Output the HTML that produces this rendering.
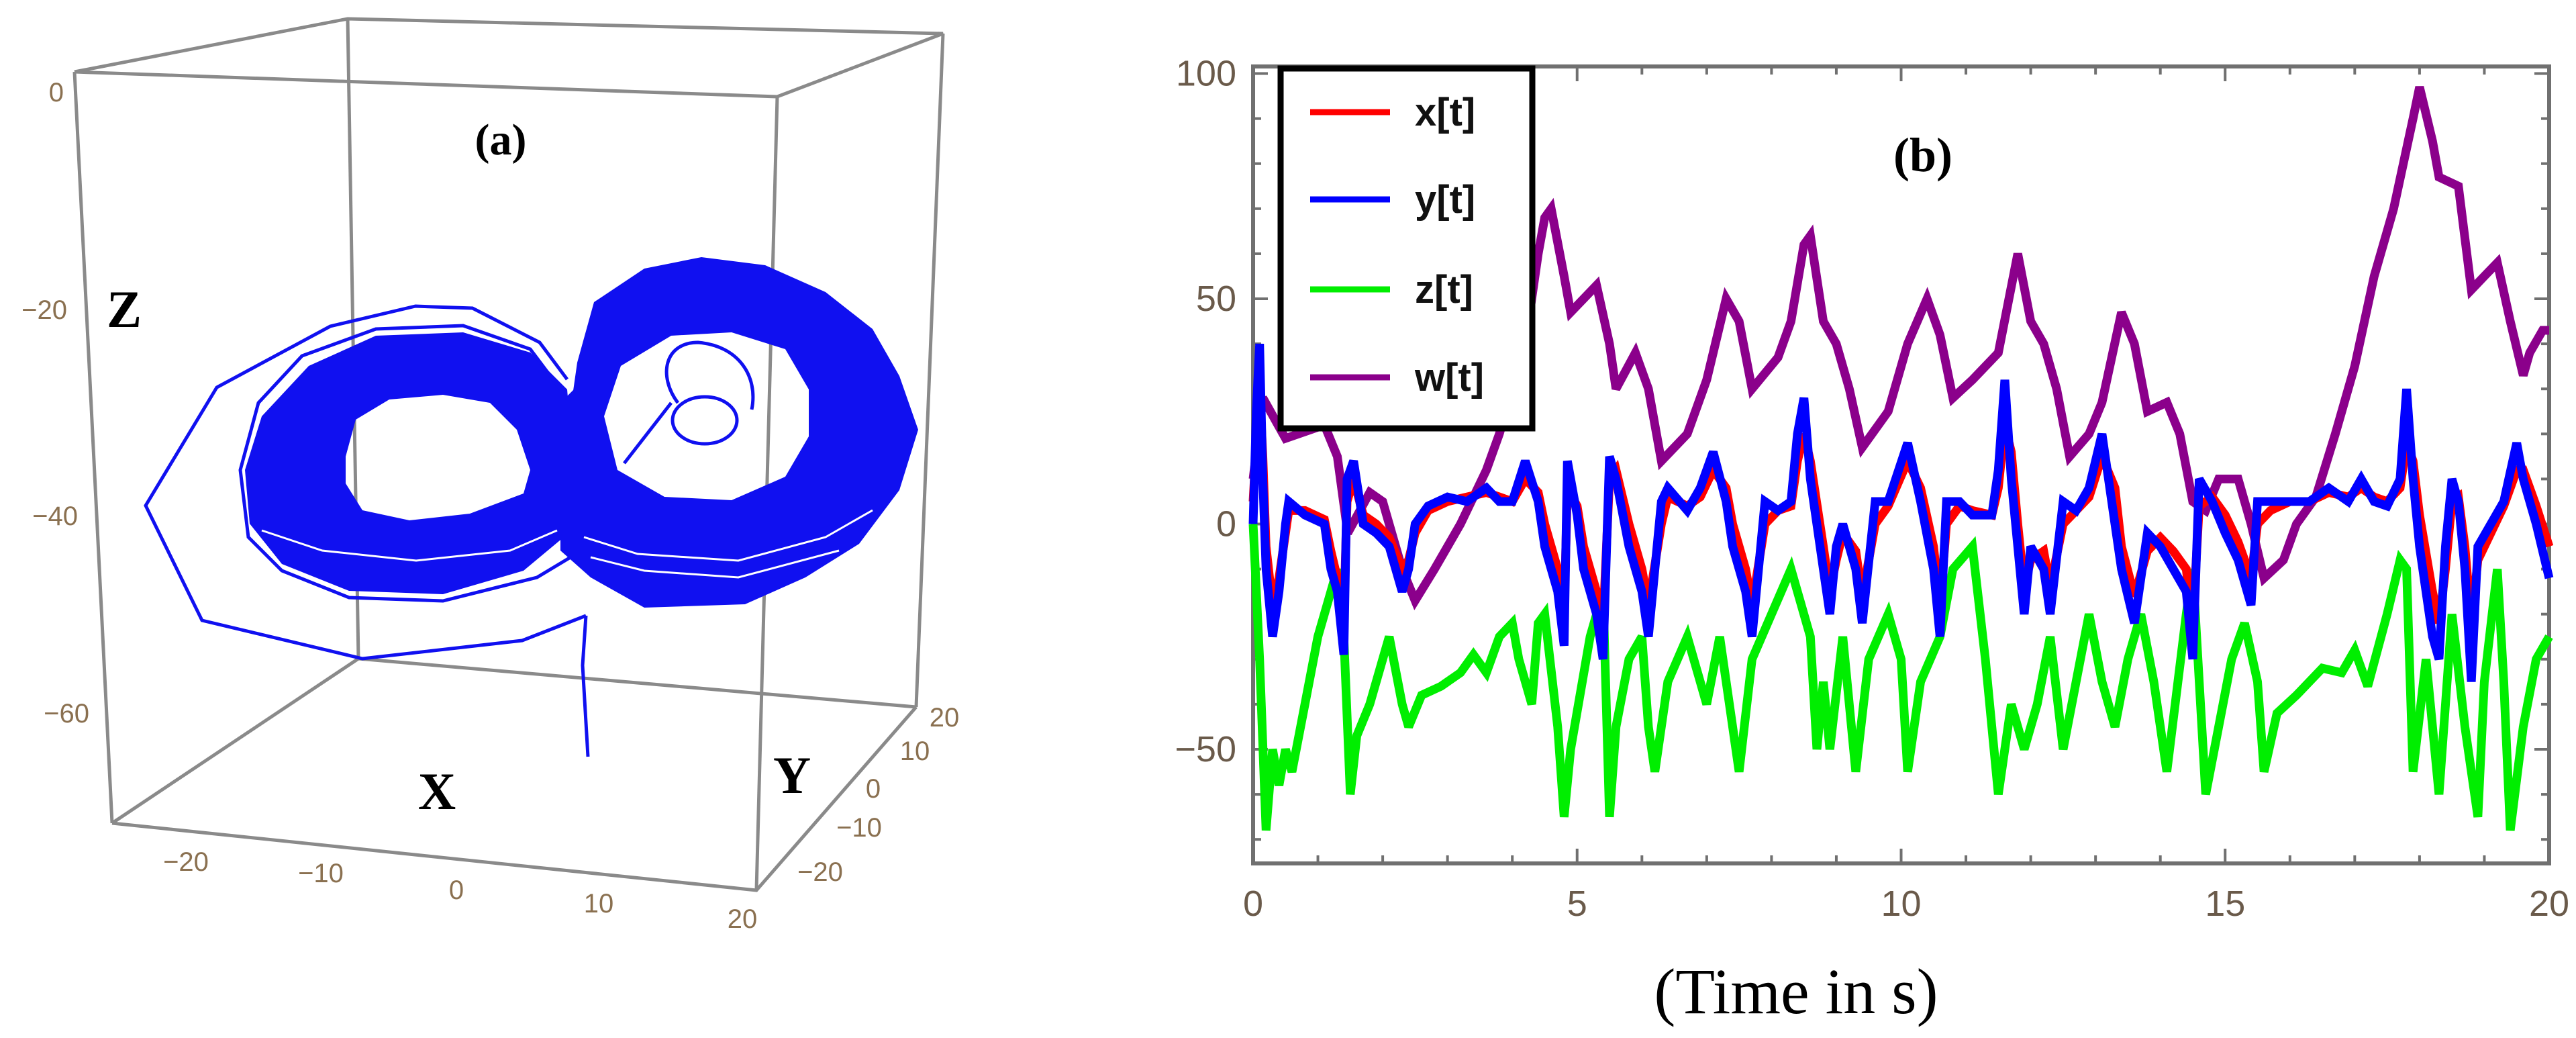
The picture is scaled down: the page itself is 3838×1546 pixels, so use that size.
<!DOCTYPE html>
<html><head><meta charset="utf-8"><style>
html,body{margin:0;padding:0;background:#fff;}
svg{display:block;}
</style></head><body>
<svg id="root" width="3838" height="1546" viewBox="0 0 3838 1546" xmlns="http://www.w3.org/2000/svg">
<rect width="3838" height="1546" fill="#fff"/>
<!-- Panel (a): 3D attractor -->
<g>
  <g stroke="#8a8a8a" stroke-width="5" fill="none">
    <polyline points="111,107 518,28 1405,50 1158,144 111,107"/>
    <line x1="111" y1="107" x2="167" y2="1226"/>
    <line x1="518" y1="28" x2="534" y2="981"/>
    <line x1="1405" y1="50" x2="1365" y2="1053"/>
    <line x1="1158" y1="144" x2="1127" y2="1326"/>
    <polyline points="167,1226 1127,1326 1365,1053"/>
    <line x1="167" y1="1226" x2="534" y2="981"/>
    <line x1="534" y1="981" x2="1365" y2="1053"/>
  </g>
  <g>
    <path fill="#1010f0" fill-rule="evenodd"
      d="M365,700 L390,620 L460,545 L560,500 L690,495 L790,525 L845,580 L855,700 L840,800 L780,850 L660,885 L520,880 L420,840 L372,780 Z M515,680 L530,625 L580,595 L660,588 L730,600 L770,640 L790,700 L780,735 L700,765 L610,775 L540,760 L515,720 Z"/>
    <path fill="#1010f0" fill-rule="evenodd"
      d="M860,540 L885,450 L960,400 L1045,383 L1140,395 L1230,435 L1300,490 L1340,560 L1368,640 L1340,730 L1280,810 L1200,860 L1110,900 L960,905 L880,860 L845,800 L840,680 Z M900,620 L925,545 L1000,500 L1090,495 L1170,520 L1205,580 L1205,650 L1170,710 L1090,745 L990,740 L920,700 Z"/>
    <polygon fill="#1010f0" points="835,600 875,560 880,860 835,820"/>
    <g fill="none" stroke="#ffffff" stroke-width="3">
      <polyline points="870,800 950,825 1100,835 1230,800 1300,760"/>
      <polyline points="880,830 960,850 1100,860 1250,820"/>
      <polyline points="390,790 480,820 620,835 760,820 830,790"/>
    </g>
    <g fill="none" stroke="#1010f0" stroke-width="5">
      <ellipse cx="1050" cy="626" rx="48" ry="35"/>
      <path d="M1010,600 C980,560 990,510 1040,510 C1100,515 1130,560 1120,610"/>
      <line x1="930" y1="690" x2="1000" y2="600"/>
      <polyline points="845,565 804,510 704,459 619,456 492,486 323,577 217,753 301,924 540,981 778,954 873,917"/>
      <polyline points="873,917 868,991 876,1127"/>
      <polyline points="835,580 790,520 690,485 560,490 450,530 385,600 358,700 370,800 420,850 520,890 660,895 800,860 850,830"/>
    </g>
  </g>
  <g font-family="Liberation Sans, sans-serif" font-size="40" fill="#8a7050" text-anchor="end">
    <text x="95" y="151">0</text>
    <text x="100" y="475">−20</text>
    <text x="116" y="782">−40</text>
    <text x="133" y="1076">−60</text>
  </g>
  <g font-family="Liberation Sans, sans-serif" font-size="40" fill="#8a7050" text-anchor="middle">
    <text x="277" y="1297">−20</text>
    <text x="478" y="1314">−10</text>
    <text x="680" y="1339">0</text>
    <text x="892" y="1359">10</text>
    <text x="1106" y="1382">20</text>
  </g>
  <g font-family="Liberation Sans, sans-serif" font-size="40" fill="#8a7050" text-anchor="middle">
    <text x="1407" y="1082">20</text>
    <text x="1363" y="1132">10</text>
    <text x="1301" y="1188">0</text>
    <text x="1280" y="1246">−10</text>
    <text x="1222" y="1312">−20</text>
  </g>
  <g font-family="Liberation Serif, serif" font-weight="bold" fill="#000">
    <text x="185" y="487" font-size="78" text-anchor="middle">Z</text>
    <text x="651" y="1205" font-size="78" text-anchor="middle">X</text>
    <text x="1180" y="1181" font-size="78" text-anchor="middle">Y</text>
    <text x="746" y="230" font-size="66" text-anchor="middle">(a)</text>
  </g>
</g>
<!-- Panel (b) -->
<g id="panelB"></g>
</svg>
<script>
const T_W = [0,0.15,0.5,1.1,1.3,1.46,1.8,2.0,2.3,2.5,2.8,3.2,3.6,3.8,4.0,4.2,4.4,4.5,4.6,4.8,4.9,5.1,5.3,5.5,5.6,5.9,6.1,6.3,6.7,7.0,7.3,7.5,7.7,8.1,8.3,8.5,8.6,8.8,9.0,9.2,9.4,9.8,10.1,10.4,10.6,10.8,11.1,11.5,11.8,12.0,12.2,12.4,12.6,12.9,13.1,13.4,13.6,13.8,14.1,14.3,14.5,14.7,14.9,15.2,15.4,15.6,15.9,16.1,16.4,16.7,17.0,17.3,17.6,17.9,18.0,18.2,18.3,18.6,18.8,19.0,19.2,19.4,19.6,19.7,19.9,20];
const W = [10,28,19,22,15,-2,7,5,-10,-17,-10,0,12,20,30,40,60,68,70,55,47,50,53,40,30,38,30,14,20,32,50,45,30,37,45,62,64,45,40,30,17,25,40,50,42,28,32,38,60,45,40,30,15,20,27,47,40,25,27,20,5,3,10,10,0,-12,-8,0,6,20,35,55,70,90,97,85,77,75,52,55,58,45,33,38,43,43];
const T_XY = [0,0.05,0.1,0.15,0.2,0.3,0.4,0.5,0.55,0.8,1.1,1.2,1.3,1.4,1.45,1.55,1.7,1.9,2.1,2.3,2.4,2.5,2.7,3.0,3.3,3.6,3.8,4.0,4.2,4.4,4.5,4.7,4.8,4.85,5.0,5.1,5.3,5.4,5.5,5.6,5.8,6.0,6.1,6.3,6.4,6.7,6.9,7.1,7.3,7.4,7.6,7.7,7.9,8.1,8.3,8.4,8.5,8.6,8.8,8.9,9.0,9.1,9.3,9.4,9.6,9.8,10.1,10.3,10.5,10.6,10.7,10.9,11.1,11.4,11.5,11.6,11.7,11.8,11.9,12.0,12.2,12.3,12.5,12.7,12.9,13.1,13.3,13.4,13.6,13.8,14.0,14.2,14.4,14.5,14.6,14.8,15.0,15.2,15.4,15.5,15.7,16.0,16.3,16.6,16.9,17.1,17.3,17.5,17.7,17.8,17.9,18.0,18.2,18.3,18.4,18.5,18.6,18.7,18.8,18.9,19.1,19.3,19.5,19.6,19.8,20];
const Y = [0,25,40,10,-10,-25,-15,0,5,2,0,-10,-15,-29,10,14,0,-2,-5,-15,-10,0,4,6,5,8,5,5,14,5,-5,-15,-27,14,2,-10,-20,-30,15,10,-5,-15,-25,5,8,3,8,16,5,-5,-15,-25,5,3,5,20,28,10,-10,-20,-5,0,-10,-22,5,5,18,5,-10,-25,5,5,2,2,12,32,10,-5,-20,-5,-10,-20,5,3,8,20,0,-10,-22,-2,-5,-10,-15,-30,10,5,-2,-8,-18,5,5,5,5,8,5,10,5,4,10,30,10,-5,-25,-30,-5,10,5,-10,-35,-5,0,5,18,10,0,-12];
const X = [5,18,30,15,-5,-18,-12,-2,3,3,1,-6,-12,-20,5,10,2,0,-3,-10,-8,-2,3,5,6,7,6,5,10,7,0,-10,-20,8,4,-5,-15,-22,10,12,0,-10,-18,0,6,4,6,12,8,0,-10,-18,0,3,4,14,20,14,-5,-15,-8,-2,-6,-16,0,4,14,8,-5,-18,0,4,3,2,8,22,16,0,-14,-8,-6,-14,0,3,6,15,8,-5,-16,-6,-3,-6,-10,-22,4,6,2,-4,-12,0,3,5,5,7,6,8,6,5,8,18,14,2,-15,-22,-10,5,6,-5,-22,-8,-2,4,12,12,4,-5];
const T_Z = [0,0.1,0.2,0.3,0.4,0.5,0.6,0.8,1.0,1.2,1.3,1.4,1.5,1.6,1.8,2.0,2.1,2.3,2.4,2.6,2.9,3.2,3.4,3.6,3.8,4.0,4.1,4.3,4.4,4.5,4.7,4.8,4.9,5.2,5.4,5.5,5.6,5.8,6.0,6.1,6.2,6.4,6.7,6.9,7.0,7.2,7.5,7.7,8.0,8.3,8.6,8.7,8.8,8.9,9.1,9.3,9.5,9.8,10.0,10.1,10.3,10.6,10.8,11.1,11.3,11.5,11.7,11.9,12.1,12.3,12.5,12.7,12.9,13.1,13.3,13.5,13.7,13.9,14.1,14.4,14.5,14.7,14.9,15.1,15.3,15.5,15.6,15.8,16.1,16.5,16.8,17.0,17.2,17.5,17.7,17.8,17.9,18.1,18.3,18.5,18.7,18.9,19.0,19.2,19.3,19.4,19.6,19.8,20];
const Z = [0,-30,-68,-50,-58,-50,-55,-40,-25,-15,-10,-25,-60,-47,-40,-30,-25,-40,-45,-38,-36,-33,-29,-33,-25,-22,-30,-40,-22,-20,-45,-65,-50,-25,-15,-65,-45,-30,-25,-45,-55,-35,-25,-35,-40,-25,-55,-30,-20,-10,-25,-50,-35,-50,-25,-55,-30,-20,-30,-55,-35,-25,-10,-5,-30,-60,-40,-50,-40,-25,-50,-35,-20,-35,-45,-30,-20,-35,-55,-20,-10,-60,-45,-30,-22,-35,-55,-42,-38,-32,-33,-28,-36,-20,-8,-10,-55,-30,-60,-20,-45,-65,-35,-10,-35,-68,-45,-30,-25];
const X_TICKS = [0,5,10,15,20];
const Y_TICKS = [100,50,0,-50];
const Y_TICK_LABELS = ["100","50","0","−50"];
const LEGEND_LABELS = ["x[t]","y[t]","z[t]","w[t]"];

const NS = "http://www.w3.org/2000/svg";
const L = 1867, R = 3798, TOP = 99, BOT = 1286;
function sx(t){ return L + (t - 0) / 20 * (R - L); }
function sy(v){ return 780.5 - v * 6.71; }
function mk(tag, attrs, parent){ const e = document.createElementNS(NS, tag); for (const k in attrs) e.setAttribute(k, attrs[k]); parent.appendChild(e); return e; }
const g = document.getElementById("panelB");

const frame = mk("rect", {x:L, y:TOP, width:R-L, height:BOT-TOP, fill:"none", stroke:"#707070", "stroke-width":6}, g);



for (let t = 0; t <= 20; t += 1) {
  const major = t % 5 === 0; const len = major ? 22 : 12;
  const a = mk("line", {x1:sx(t), x2:sx(t), y1:BOT, y2:BOT-len, stroke:"#707070", "stroke-width":4}, g);
  
  
  const b = mk("line", {x1:sx(t), x2:sx(t), y1:TOP, y2:TOP+len, stroke:"#707070", "stroke-width":4}, g);
  
  
}
for (let v = -70; v <= 100; v += 10) {
  const major = v % 50 === 0; const len = major ? 22 : 12;
  const a = mk("line", {x1:L, x2:L+len, y1:sy(v), y2:sy(v), stroke:"#707070", "stroke-width":4}, g);
  
  
  const b = mk("line", {x1:R, x2:R-len, y1:sy(v), y2:sy(v), stroke:"#707070", "stroke-width":4}, g);
  
  
}
X_TICKS.forEach(function(t){
  const tx = mk("text", {x:sx(t), y:1364, "font-family":"Liberation Sans, sans-serif", "font-size":54, fill:"#6a5a4a", "text-anchor":"middle"}, g);
  tx.textContent = String(t);
  
  
});
Y_TICKS.forEach(function(v, i){
  const tx = mk("text", {x:1842, y:sy(v)+18, "font-family":"Liberation Sans, sans-serif", "font-size":54, fill:"#6a5a4a", "text-anchor":"end"}, g);
  tx.textContent = Y_TICK_LABELS[i];
  
  
});

function series(T, V, color, name){
  let pts = [];
  const n = Math.min(T.length, V.length);
  for (let i = 0; i < n; i++) pts.push(sx(T[i]).toFixed(1) + "," + sy(V[i]).toFixed(1));
  const p = mk("polyline", {points:pts.join(" "), fill:"none", stroke:color, "stroke-width":13, "stroke-linejoin":"miter", "stroke-miterlimit":3}, g);
  
  
}
series(T_W, W, "#8b008b", "series-w");
series(T_Z, Z, "#00ee00", "series-z");
series(T_XY, X, "#ff0000", "series-x");
series(T_XY, Y, "#0000ff", "series-y");

const lg = mk("g", {}, g);


const lb = mk("rect", {x:1908, y:102, width:375, height:536, fill:"#fff", stroke:"#000", "stroke-width":9}, lg);


const LCOL = ["#ff0000","#0000ff","#00ee00","#8b008b"];
const LY = [167,297,431,562];
LEGEND_LABELS.forEach(function(lab, i){
  const ln = mk("line", {x1:1952, x2:2071, y1:LY[i], y2:LY[i], stroke:LCOL[i], "stroke-width":9}, lg);
  
  
  const tx = mk("text", {x:2108, y:LY[i]+20, "font-family":"Liberation Sans, sans-serif", "font-weight":"bold", "font-size":58, fill:"#111"}, lg);
  tx.textContent = lab;
  
  
});

const title = mk("text", {x:2865, y:255, "font-family":"Liberation Serif, serif", "font-weight":"bold", "font-size":72, fill:"#000", "text-anchor":"middle"}, g);
title.textContent = "(b)";


const xl = mk("text", {x:2676, y:1509, "font-family":"Liberation Serif, serif", "font-size":96, fill:"#000", "text-anchor":"middle"}, g);
xl.textContent = "(Time in s)";


</script>
</body></html>
